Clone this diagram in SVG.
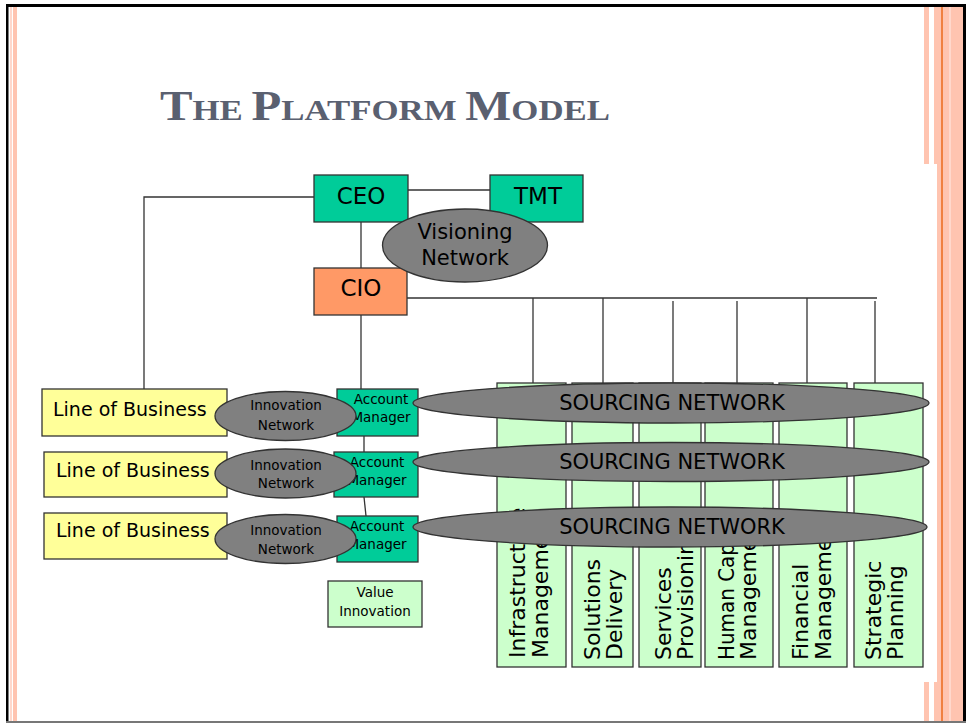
<svg xmlns="http://www.w3.org/2000/svg" width="966" height="723" viewBox="0 0 966 723">
<defs>
<style>
.t{font-family:"DejaVu Sans","Liberation Sans",sans-serif;fill:#000}
.ln{stroke:#333;stroke-width:1.3;fill:none}
.box{stroke:#333;stroke-width:1.3}
.teal{fill:#00cc99}
.yel{fill:#ffff99}
.grn{fill:#ccffcc}
.ell{fill:#808080;stroke:#333;stroke-width:1.3}
</style>
</defs>
<rect width="966" height="723" fill="#fff"/>
<!-- frame -->
<g id="frame">
<rect x="10" y="7" width="2" height="716" fill="#ffd8cc"/>
<rect x="13" y="7" width="4" height="716" fill="#ffc4b0"/>
<rect x="924" y="7" width="5" height="157" fill="#ffc4b0"/>
<rect x="924" y="682" width="5" height="41" fill="#ffc4b0"/>
<rect x="934" y="7" width="7" height="157" fill="#ffc4b0"/>
<rect x="934" y="682" width="7" height="41" fill="#ffc4b0"/>
<rect x="937" y="164" width="4" height="518" fill="#ffc4b0"/>
<rect x="941" y="7" width="2" height="716" fill="#f08040"/>
<rect x="943" y="7" width="20" height="716" fill="#ffc4b0"/>
<rect x="949" y="7" width="2" height="716" fill="#ffd8cc"/>
<rect x="6" y="4" width="960" height="3" fill="#000"/>
<rect x="6" y="4" width="2.5" height="719" fill="#000"/>
<rect x="963" y="4" width="3" height="719" fill="#000"/>
<rect x="6" y="721" width="960" height="2" fill="#777"/>
</g>
<text x="160" y="120" font-family="Liberation Serif,serif" font-weight="bold" fill="#5a6070" textLength="450" lengthAdjust="spacingAndGlyphs"><tspan font-size="42">T</tspan><tspan font-size="30">HE </tspan><tspan font-size="42">P</tspan><tspan font-size="30">LATFORM </tspan><tspan font-size="42">M</tspan><tspan font-size="30">ODEL</tspan></text>
<!-- connectors -->
<g id="connectors">
<polyline class="ln" points="314,197 144,197 144,389"/>
<line class="ln" x1="408" y1="190" x2="490" y2="190"/>
<line class="ln" x1="361" y1="222" x2="361" y2="268"/>
<line class="ln" x1="407" y1="298" x2="877" y2="298"/>
<line class="ln" x1="533" y1="298" x2="533" y2="383"/>
<line class="ln" x1="603" y1="298" x2="603" y2="383"/>
<line class="ln" x1="673" y1="301" x2="673" y2="383"/>
<line class="ln" x1="737" y1="301" x2="737" y2="383"/>
<line class="ln" x1="807" y1="298" x2="807" y2="383"/>
<line class="ln" x1="875" y1="301" x2="875" y2="383"/>
<line class="ln" x1="361" y1="315" x2="361" y2="389"/>
<line class="ln" x1="364" y1="436" x2="364" y2="452"/>
<line class="ln" x1="364" y1="497" x2="366" y2="516"/>
</g>
<!-- top nodes -->
<g id="ceo"><rect class="box teal" x="314" y="175" width="94" height="47"/><text class="t" x="361" y="204" font-size="23" text-anchor="middle">CEO</text></g>
<g id="tmt"><rect class="box teal" x="490" y="175" width="93" height="47"/><text class="t" x="538" y="204" font-size="23" text-anchor="middle">TMT</text></g>
<g id="cio"><rect class="box" fill="#ff9966" x="314" y="268" width="93" height="47"/><text class="t" x="361" y="296" font-size="23" text-anchor="middle">CIO</text></g>
<g id="visioning"><ellipse class="ell" cx="465" cy="245.5" rx="82.5" ry="36.5"/><text class="t" x="465" y="239" font-size="21" text-anchor="middle">Visioning</text><text class="t" x="465" y="265" font-size="21" text-anchor="middle">Network</text></g>
<!-- lines of business -->
<g id="lob1"><rect class="box yel" x="42" y="389" width="185" height="47"/><text class="t" x="53" y="416" font-size="19">Line of Business</text></g>
<g id="lob2"><rect class="box yel" x="44" y="452" width="183" height="45"/><text class="t" x="56" y="477" font-size="19">Line of Business</text></g>
<g id="lob3"><rect class="box yel" x="44" y="513" width="183" height="46"/><text class="t" x="56" y="537" font-size="19">Line of Business</text></g>
<!-- account managers -->
<g id="am1"><rect class="box teal" x="337" y="389" width="81" height="47"/><text class="t" x="381" y="404" font-size="13.5" text-anchor="middle">Account</text><text class="t" x="381" y="422" font-size="13.5" text-anchor="middle">Manager</text></g>
<g id="am2"><rect class="box teal" x="334" y="452" width="84" height="45"/><text class="t" x="377" y="467" font-size="13.5" text-anchor="middle">Account</text><text class="t" x="377" y="485" font-size="13.5" text-anchor="middle">Manager</text></g>
<g id="am3"><rect class="box teal" x="337" y="516" width="81" height="46"/><text class="t" x="377" y="531" font-size="13.5" text-anchor="middle">Account</text><text class="t" x="377" y="549" font-size="13.5" text-anchor="middle">Manager</text></g>
<g id="valueinnovation"><rect class="box grn" x="328" y="581" width="94" height="46"/><text class="t" x="375" y="597" font-size="13.5" text-anchor="middle">Value</text><text class="t" x="375" y="616" font-size="13.5" text-anchor="middle">Innovation</text></g>
<!-- columns -->
<g id="col1"><rect class="box grn" x="497" y="383" width="69" height="284"/><text class="t" font-size="22" transform="translate(525,658) rotate(-90)">Infrastructure<tspan x="0" dy="23">Management</tspan></text></g>
<g id="col2"><rect class="box grn" x="572" y="383" width="61" height="284"/><text class="t" font-size="22" transform="translate(600,660) rotate(-90)">Solutions<tspan x="0" dy="22">Delivery</tspan></text></g>
<g id="col3"><rect class="box grn" x="639" y="383" width="62" height="284"/><text class="t" font-size="22" transform="translate(671,660) rotate(-90)">Services<tspan x="0" dy="22">Provisioning</tspan></text></g>
<g id="col4"><rect class="box grn" x="705" y="383" width="68" height="284"/><text class="t" font-size="22" transform="translate(734,660) rotate(-90)"><tspan textLength="148" lengthAdjust="spacingAndGlyphs">Human Capital</tspan><tspan x="0" dy="22">Management</tspan></text></g>
<g id="col5"><rect class="box grn" x="779" y="383" width="68" height="284"/><text class="t" font-size="22" transform="translate(808,660) rotate(-90)">Financial<tspan x="0" dy="23">Management</tspan></text></g>
<g id="col6"><rect class="box grn" x="854" y="383" width="69" height="284"/><text class="t" font-size="22" transform="translate(881,660) rotate(-90)">Strategic<tspan x="0" dy="22">Planning</tspan></text></g>
<!-- innovation networks -->
<g id="innov1"><ellipse class="ell" cx="285.5" cy="416" rx="70.5" ry="24.5"/><text class="t" x="286" y="410" font-size="13.5" text-anchor="middle">Innovation</text><text class="t" x="286" y="430" font-size="13.5" text-anchor="middle">Network</text></g>
<g id="innov2"><ellipse class="ell" cx="285.5" cy="473.5" rx="70.5" ry="24.5"/><text class="t" x="286" y="470" font-size="13.5" text-anchor="middle">Innovation</text><text class="t" x="286" y="488" font-size="13.5" text-anchor="middle">Network</text></g>
<g id="innov3"><ellipse class="ell" cx="285.5" cy="539" rx="70.5" ry="24.5"/><text class="t" x="286" y="535" font-size="13.5" text-anchor="middle">Innovation</text><text class="t" x="286" y="554" font-size="13.5" text-anchor="middle">Network</text></g>
<!-- sourcing networks -->
<g id="sourcing1"><ellipse class="ell" cx="671" cy="403" rx="258" ry="20"/><text class="t" x="672" y="410" font-size="21" text-anchor="middle">SOURCING NETWORK</text></g>
<g id="sourcing2"><ellipse class="ell" cx="671" cy="462" rx="258" ry="19.5"/><text class="t" x="672" y="469" font-size="21" text-anchor="middle">SOURCING NETWORK</text></g>
<g id="sourcing3"><ellipse class="ell" cx="670" cy="527" rx="257" ry="20"/><text class="t" x="672" y="534" font-size="21" text-anchor="middle">SOURCING NETWORK</text></g>
</svg>
